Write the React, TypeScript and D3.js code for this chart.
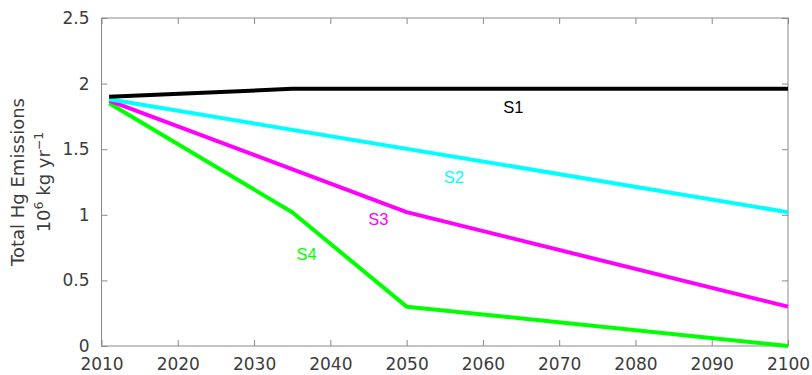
import React, { useEffect, useRef } from "react";
import * as d3 from "d3";

// scenario series
const seriesNames = ["S4", "S3", "S2", "S1"];
const seriesColors = ["#00ff00", "#ff00ff", "#00ffff", "#000000"];
const s1Years = [2011, 2035, 2100];
const s1Values = [1.9, 1.96, 1.96];
const s2Years = [2011, 2100];
const s2Values = [1.88, 1.02];
const s3Years = [2011, 2050, 2100];
const s3Values = [1.87, 1.02, 0.3];
const s4Years = [2011, 2035, 2050, 2100];
const s4Values = [1.85, 1.02, 0.3, 0.0];

// label anchor points (year, value)
const labelYears = [2036.9, 2046.3, 2056.2, 2064.0];
const labelValues = [0.7, 0.97, 1.29, 1.82];

const xTicks = [2010, 2020, 2030, 2040, 2050, 2060, 2070, 2080, 2090, 2100];
const yTicks = [0, 0.5, 1, 1.5, 2, 2.5];

const W = 812;
const H = 375;
const margin = { top: 18, right: 24, bottom: 29, left: 101.5 };

const App = () => {
  const ref = useRef<SVGSVGElement>(null);

  useEffect(() => {
    const svg = d3.select(ref.current);
    svg.selectAll("*").remove();

    const x = d3
      .scaleLinear()
      .domain([2010, 2100])
      .range([margin.left, W - margin.right]);
    const y = d3
      .scaleLinear()
      .domain([0, 2.5])
      .range([H - margin.bottom, margin.top]);

    const axisColor = "#8a8a8a";
    const textColor = "#3c3c3c";
    const tickFont = "DejaVu Sans, sans-serif";

    const styleAxis = (g: any, hideText: boolean) => {
      g.select(".domain").remove();
      g.selectAll(".tick line").attr("stroke", axisColor);
      g.selectAll(".tick text")
        .attr("fill", textColor)
        .attr("font-family", tickFont)
        .attr("font-size", 17)
        .attr("display", hideText ? "none" : null);
    };

    // box frame
    svg
      .append("rect")
      .attr("x", x(2010))
      .attr("y", y(2.5))
      .attr("width", x(2100) - x(2010))
      .attr("height", y(0) - y(2.5))
      .attr("fill", "none")
      .attr("stroke", axisColor)
      .attr("stroke-width", 1);

    // inward ticks on all sides
    svg
      .append("g")
      .attr("transform", `translate(0, ${y(0)})`)
      .call(
        d3
          .axisBottom(x)
          .tickValues(xTicks)
          .tickFormat(d3.format("d"))
          .tickSizeInner(-6)
          .tickPadding(12)
      )
      .call((g: any) => styleAxis(g, false));

    svg
      .append("g")
      .attr("transform", `translate(0, ${y(2.5)})`)
      .call(d3.axisTop(x).tickValues(xTicks).tickSizeInner(-6))
      .call((g: any) => styleAxis(g, true));

    svg
      .append("g")
      .attr("transform", `translate(${x(2010)}, 0)`)
      .call(
        d3
          .axisLeft(y)
          .tickValues(yTicks)
          .tickFormat((d: any) => String(d))
          .tickSizeInner(-6)
          .tickPadding(12)
      )
      .call((g: any) => styleAxis(g, false));

    svg
      .append("g")
      .attr("transform", `translate(${x(2100)}, 0)`)
      .call(d3.axisRight(y).tickValues(yTicks).tickSizeInner(-6))
      .call((g: any) => styleAxis(g, true));

    // lines
    const allYears = [s4Years, s3Years, s2Years, s1Years];
    const allValues = [s4Values, s3Values, s2Values, s1Values];
    const line = d3
      .line<[number, number]>()
      .x((d) => x(d[0]))
      .y((d) => y(d[1]));

    seriesNames.forEach((name, i) => {
      const pts = allYears[i].map((yr, j) => [yr, allValues[i][j]] as [number, number]);
      svg
        .append("path")
        .attr("d", line(pts))
        .attr("fill", "none")
        .attr("stroke", seriesColors[i])
        .attr("stroke-width", 4)
        .attr("stroke-linejoin", "round");

      svg
        .append("text")
        .text(name)
        .attr("x", x(labelYears[i]))
        .attr("y", y(labelValues[i]))
        .attr("text-anchor", "middle")
        .attr("dy", "0.36em")
        .attr("fill", seriesColors[i])
        .attr("font-family", "Liberation Sans, Arial, sans-serif")
        .attr("font-size", 16.5);
    });

    // y axis title
    const yMid = (y(0) + y(2.5)) / 2;
    svg
      .append("text")
      .attr("transform", `translate(24, ${yMid}) rotate(-90)`)
      .attr("text-anchor", "middle")
      .attr("fill", textColor)
      .attr("font-family", tickFont)
      .attr("font-size", 18)
      .text("Total Hg Emissions");

    const t2 = svg
      .append("text")
      .attr("transform", `translate(50, ${yMid}) rotate(-90)`)
      .attr("text-anchor", "middle")
      .attr("fill", textColor)
      .attr("font-family", tickFont)
      .attr("font-size", 18);
    t2.append("tspan").text("10");
    t2.append("tspan").text("6").attr("font-size", 12.5).attr("dy", -7);
    t2.append("tspan").text(" kg yr").attr("dy", 7);
    t2.append("tspan").text("−1").attr("font-size", 12.5).attr("dy", -7);
  }, []);

  return (
    <svg
      ref={ref}
      width={W}
      height={H}
      style={{ position: "absolute", left: 0, top: 0, background: "#fff" }}
    />
  );
};

export default App;
